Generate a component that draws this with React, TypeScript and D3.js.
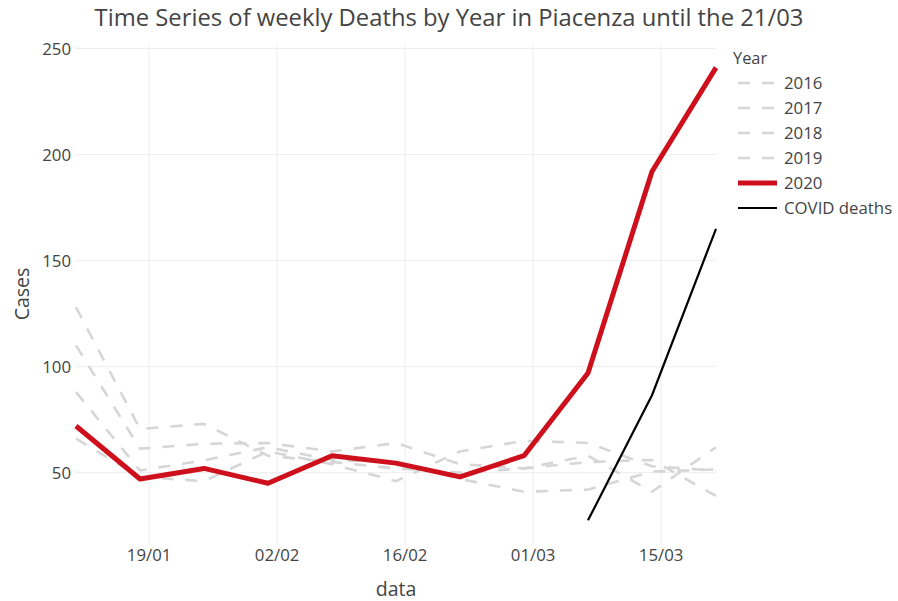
import React from "react";
import * as d3 from "d3";

// ---- data ----
const weekDates = [
  "2020-01-11", "2020-01-18", "2020-01-25", "2020-02-01", "2020-02-08", "2020-02-15",
  "2020-02-22", "2020-02-29", "2020-03-07", "2020-03-14", "2020-03-21",
];
const deaths2016 = [128, 70.6, 73, 58, 55, 52, 50, 52, 55, 56, 39];
const deaths2017 = [110, 61.3, 63.6, 64, 60, 64, 54, 52, 58, 41, 62];
const deaths2018 = [88, 51, 55.8, 62, 56, 55, 47, 41, 42, 50.5, 51.5];
const deaths2019 = [66, 48, 46, 60, 54, 46, 60, 65, 64, 53, 51];
const deaths2020 = [72, 47, 52, 45, 58, 54.5, 48, 58, 97, 192, 241];
const covidDeaths: (number | null)[] = [null, null, null, null, null, null, null, null, 27.5, 86.5, 165];

const xTickDates = ["2020-01-19", "2020-02-02", "2020-02-16", "2020-03-01", "2020-03-15"];
const xTickLabels = ["19/01", "02/02", "16/02", "01/03", "15/03"];
const yTicks = [50, 100, 150, 200, 250];

const legendNames = ["2016", "2017", "2018", "2019", "2020", "COVID deaths"];

const W = 898;
const H = 601;
const plotLeft = 76;
const plotRight = 716;
const plotTop = 45;
const plotBottom = 543;

const FONT = "'Open Sans', 'DejaVu Sans', sans-serif";
const TEXT = "#444";
const GRAY = "#d6d6d6";
const RED = "#cd101c";

export default function App() {
  const parse = d3.utcParse("%Y-%m-%d");
  const dates = weekDates.map((d) => parse(d) as Date);
  const x = d3
    .scaleUtc()
    .domain(d3.extent(dates) as [Date, Date])
    .range([plotLeft, plotRight]);

  const grays = [deaths2016, deaths2017, deaths2018, deaths2019];
  const allVals = [...grays.flat(), ...deaths2020, ...(covidDeaths.filter((v) => v != null) as number[])];
  const [mn, mx] = d3.extent(allVals) as [number, number];
  const pad = (mx - mn) * 0.05;
  const y = d3.scaleLinear().domain([mn - pad, mx + pad]).range([plotBottom, plotTop]);

  const line = d3
    .line<number | null>()
    .defined((v) => v != null)
    .x((_, i) => x(dates[i]))
    .y((v) => y(v as number));

  const tickDates = xTickDates.map((d) => parse(d) as Date);

  const legendX = 738;
  const legendY0 = 83;
  const legendStep = 25;

  return (
    <svg
      width={W}
      height={H}
      style={{ position: "absolute", left: 0, top: 0, background: "#fff" }}
      fontFamily={FONT}
    >
      <rect x={0} y={0} width={W} height={H} fill="#fff" />
      {/* grid */}
      {yTicks.map((t) => (
        <line key={"gy" + t} x1={plotLeft} x2={plotRight} y1={y(t)} y2={y(t)} stroke="#eeeeee" strokeWidth={1} />
      ))}
      {tickDates.map((d, i) => (
        <line key={"gx" + i} x1={x(d)} x2={x(d)} y1={plotTop} y2={plotBottom} stroke="#eeeeee" strokeWidth={1} />
      ))}

      {/* series */}
      {grays.map((s, i) => (
        <path
          key={"g" + i}
          d={line(s) || ""}
          fill="none"
          stroke={GRAY}
          strokeWidth={2.6}
          strokeDasharray="12,12"
          strokeLinejoin="round"
        />
      ))}
      <path d={line(deaths2020) || ""} fill="none" stroke={RED} strokeWidth={5} strokeLinejoin="round" />
      <path d={line(covidDeaths) || ""} fill="none" stroke="#000" strokeWidth={2.2} strokeLinejoin="round" />

      {/* y tick labels */}
      {yTicks.map((t) => (
        <text key={"ty" + t} x={71} y={y(t)} dy="0.36em" textAnchor="end" fontSize={16.8} fill={TEXT}>
          {t}
        </text>
      ))}
      {/* x tick labels */}
      {tickDates.map((d, i) => (
        <text key={"tx" + i} x={x(d)} y={561} textAnchor="middle" fontSize={16.8} fill={TEXT}>
          {xTickLabels[i]}
        </text>
      ))}

      {/* axis titles */}
      <text x={(plotLeft + plotRight) / 2} y={596} textAnchor="middle" fontSize={19.5} fill={TEXT}>
        data
      </text>
      <text
        transform={`translate(29,${(plotTop + plotBottom) / 2}) rotate(-90)`}
        textAnchor="middle"
        fontSize={19.5}
        fill={TEXT}
      >
        Cases
      </text>

      {/* title */}
      <text x={W / 2} y={26} textAnchor="middle" fontSize={23.8} fill={TEXT}>
        Time Series of weekly Deaths by Year in Piacenza until the 21/03
      </text>

      {/* legend */}
      <text x={733} y={64} fontSize={16.4} fill={TEXT}>
        Year
      </text>
      {legendNames.map((name, i) => {
        const cy = legendY0 + i * legendStep;
        const isGray = i < 4;
        const stroke = isGray ? GRAY : i === 4 ? RED : "#000";
        const sw = isGray ? 2.6 : i === 4 ? 5 : 2.2;
        return (
          <g key={"l" + i}>
            <line
              x1={legendX}
              x2={legendX + 39}
              y1={cy}
              y2={cy}
              stroke={stroke}
              strokeWidth={sw}
              strokeDasharray={isGray ? "12,12" : undefined}
            />
            <text x={784} y={cy} dy="0.36em" fontSize={16.8} fill={TEXT}>
              {name}
            </text>
          </g>
        );
      })}
    </svg>
  );
}
